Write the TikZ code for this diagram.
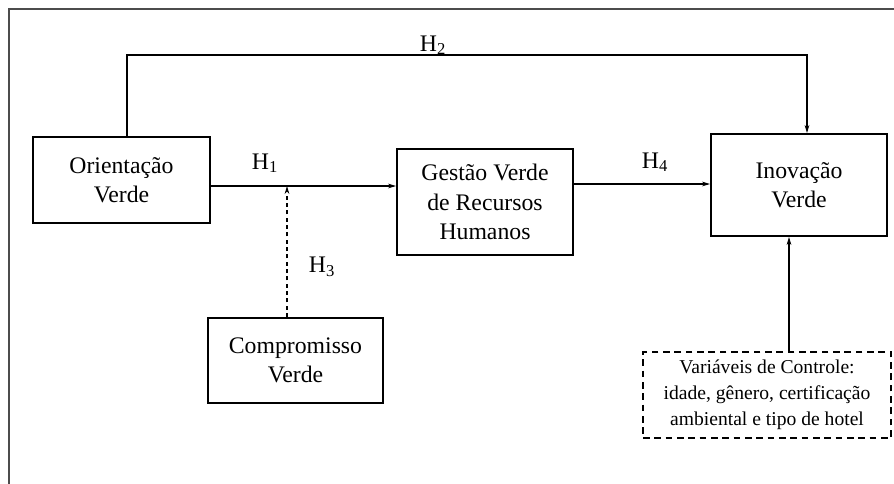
\documentclass[tikz,border=0pt]{standalone}
\usepackage{fontspec}
\setmainfont{Liberation Serif}
\usepackage{tikz}
\usetikzlibrary{positioning,arrows.meta,calc}

\begin{document}
\begin{tikzpicture}[x=0.75pt,y=0.75pt,yscale=-1,xscale=1,
        varbox/.style={draw, line width=1.4pt, align=center, inner sep=0pt,
            font=\fontsize{17.8}{22}\selectfont},
        ctrlbox/.style={draw, dashed, line width=1.1pt, align=center, inner sep=0pt,
            dash pattern=on 5pt off 3.5pt, font=\fontsize{14.7}{19.5}\selectfont},
        link/.style={line width=0.8pt, -{Stealth[length=6pt,width=3.5pt]}},
        hyp/.style={font=\fontsize{17.8}{22}\selectfont, inner sep=0pt}]
        \useasboundingbox (0,0) rectangle (894,483);
        %Frame
        \draw [line width=2pt, black!70] (900,9) -- (9,9) -- (9,490);
        %Shape: Rectangle [Orientacao Verde]
        \node [varbox, minimum width=177*0.75pt, minimum height=86*0.75pt] (ori) at (121.5,180) {Orientação\\Verde};
        %Shape: Rectangle [Gestao Verde]
        \node [varbox, minimum width=176*0.75pt, minimum height=106*0.75pt] (gest) at (485,202) {Gestão Verde\\de Recursos\\Humanos};
        %Shape: Rectangle [Inovacao Verde]
        \node [varbox, minimum width=176*0.75pt, minimum height=102*0.75pt] (inov) at (799,185) {Inovação\\Verde};
        %Shape: Rectangle [Compromisso Verde]
        \node [varbox, minimum width=175*0.75pt, minimum height=85*0.75pt] (comp) at (295.5,360.5) {Compromisso\\Verde};
        %Shape: Rectangle [Variaveis de Controle]
        \node [ctrlbox, minimum width=248*0.75pt, minimum height=86*0.75pt] (ctrl) at (767,395)
            {Variáveis de Controle:\\idade, gênero, certificação\\ambiental e tipo de hotel};
        %Straight Lines [H2]
        \coordinate (h2a) at (127,55);
        \coordinate (h2b) at (807,55);
        \draw [link] (ori.north -| h2a) -- (h2a) -- (h2b) -- (h2b |- inov.north);
        %Straight Lines [H1]
        \coordinate (h1) at (287,186);
        \draw [link] (ori.east |- h1) -- (gest.west |- h1);
        %Straight Lines [H3]
        \draw [link, dashed, dash pattern=on 3pt off 2.5pt] (comp.north -| h1) -- (h1);
        %Straight Lines [H4]
        \coordinate (h4) at (650,184);
        \draw [link] (gest.east |- h4) -- (inov.west |- h4);
        %Straight Lines [Controle]
        \coordinate (cv) at (789,300);
        \draw [link] (ctrl.north -| cv) -- (inov.south -| cv);
        % Text Node
        \node [hyp] (lh2) at (433,45) {H\textsubscript{2}};
        % Text Node
        \node [hyp] (lh1) at (265,163) {H\textsubscript{1}};
        % Text Node
        \node [hyp] (lh3) at (322,267) {H\textsubscript{3}};
        % Text Node
        \node [hyp] (lh4) at (655,162) {H\textsubscript{4}};
\end{tikzpicture}
\end{document}
